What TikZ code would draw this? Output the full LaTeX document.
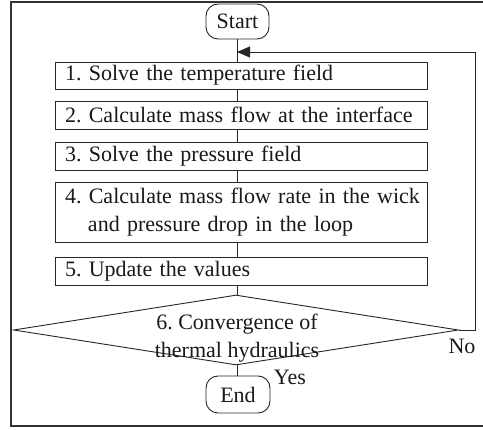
\documentclass[tikz,border=0pt]{standalone}
\usepackage{fontspec}
\setmainfont{Liberation Serif}
\usetikzlibrary{arrows.meta,shapes.geometric}
\frenchspacing
\begin{document}
\begin{tikzpicture}[x=1pt,y=-1pt,
  every node/.style={font=\fontsize{22}{28}\selectfont, text=black!90},
  line/.style={draw=black!85, line width=0.9pt},
  term/.style={line, rounded corners=12pt, minimum width=63pt, minimum height=35pt, inner sep=0pt},
  stepbox/.style={line, fill=white, text width=352pt, inner xsep=10pt, inner ysep=0pt, align=left},
  cond/.style={line, diamond, minimum width=445pt, minimum height=70pt, inner sep=0pt},
  conn/.style={draw=black!85, line width=0.9pt},
  frame/.style={draw=black!80, line width=2.2pt}
]
\useasboundingbox (0,0) rectangle (483,430);
\draw[frame] (11,2) rectangle (492,426);

\node[term] (start) at (237.5,21.5) {Start};
\node[stepbox, minimum height=27pt] (b1) at (241,75.5) {\mbox{1. Solve the temperature field}};
\node[stepbox, minimum height=28pt] (b2) at (241,115) {\mbox{2. Calculate mass flow at the interface}};
\node[stepbox, minimum height=28pt] (b3) at (241,156) {\mbox{3. Solve the pressure field}};
\node[stepbox, minimum height=60pt] (b4) at (241,212) {\mbox{4. Calculate mass flow rate in the wick}\\\mbox{\hspace*{23pt}and pressure drop in the loop}};
\node[stepbox, minimum height=28pt] (b5) at (241,271) {\mbox{5. Update the values}};
\node[cond] (d) at (236,330) {};
\node[align=center] (dt) at (237,338) {6. Convergence of\\thermal hydraulics};
\node[term, minimum width=64pt, minimum height=37pt] (end) at (238,394.5) {End};
\node (yes) at (290,377) {Yes};
\node (no) at (462,346) {No};

\coordinate (m) at (237,52);
\coordinate (lp) at (475,52);
\draw[conn] (m |- start.south) -- (m |- b1.north);
\draw[conn] (m |- b1.south) -- (m |- b2.north);
\draw[conn] (m |- b2.south) -- (m |- b3.north);
\draw[conn] (m |- b3.south) -- (m |- b4.north);
\draw[conn] (m |- b4.south) -- (m |- b5.north);
\draw[conn] (m |- b5.south) -- (m |- d.north);
\draw[conn] (m |- d.south) -- (m |- end.north);
\draw[conn, -{Triangle[length=13pt,width=11pt]}] (d.east) -| (lp) -- (m);
\end{tikzpicture}
\end{document}
